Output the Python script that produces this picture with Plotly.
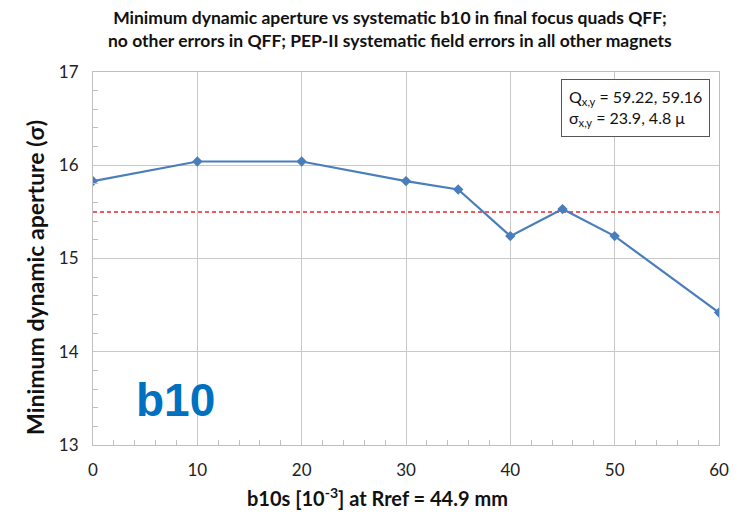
import plotly.graph_objects as go

b10 = [0, 10, 20, 30, 35, 40, 45, 50, 60]
min_da = [15.83, 16.04, 16.04, 15.83, 15.74, 15.24, 15.53, 15.24, 14.42]
threshold = 15.5
x_range = [0, 60]
y_range = [13, 17]

fig = go.Figure()
fig.add_trace(go.Scatter(
    x=x_range, y=[threshold, threshold], mode="lines",
    line=dict(color="#E8262B", width=1.5, dash="4px,3px"), showlegend=False, hoverinfo="skip"))
fig.add_trace(go.Scatter(
    x=b10, y=min_da, mode="lines+markers",
    line=dict(color="#4A7EBB", width=2.2),
    marker=dict(symbol="diamond", size=8, color="#4A7EBB"),
    showlegend=False))

fig.update_layout(
    width=743, height=526,
    margin=dict(l=93, r=24, t=72, b=81),
    paper_bgcolor="white", plot_bgcolor="white",
    font=dict(family="Lato, Open Sans, sans-serif", color="#222"),
    xaxis=dict(
        range=x_range, dtick=10, tick0=0,
        showgrid=True, gridcolor="#C8C8C8", gridwidth=1,
        showline=True, linecolor="#BFBFBF", linewidth=1, mirror=True,
        ticks="", tickfont=dict(size=17, color="#222"), ticklabelstandoff=10,
        minor=dict(dtick=2, ticks="inside", ticklen=5, tickcolor="#BFBFBF", showgrid=False),
        zeroline=False),
    yaxis=dict(
        range=y_range, dtick=1, tick0=13,
        showgrid=True, gridcolor="#C8C8C8", gridwidth=1,
        showline=True, linecolor="#BFBFBF", linewidth=1, mirror=True,
        ticks="", tickfont=dict(size=17, color="#222"), ticklabelstandoff=10,
        minor=dict(dtick=0.2, ticks="inside", ticklen=5, tickcolor="#BFBFBF", showgrid=False),
        zeroline=False),
    annotations=[
        dict(text="<b>Minimum dynamic aperture vs systematic b10 in final focus quads QFF;<br>no other errors in QFF; PEP-II systematic field errors in all other magnets</b>",
             xref="paper", yref="paper", x=0.475, y=1.18, xanchor="center", yanchor="top",
             showarrow=False, align="center",
             font=dict(size=17.5, color="#111", family="Lato, sans-serif")),
        dict(text="<b>b10s [10<sup>-3</sup>] at Rref = 44.9 mm</b>",
             xref="paper", yref="paper", x=0.455, y=-0.1, xanchor="center", yanchor="top",
             showarrow=False, font=dict(size=20, color="#111")),
        dict(text="<b>Minimum dynamic aperture (σ)</b>", textangle=-90,
             xref="paper", yref="paper", x=-0.093, y=0.45, xanchor="center", yanchor="middle",
             showarrow=False, font=dict(size=23, color="#111")),
        dict(text="Q<sub>x,y</sub> = 59.22, 59.16<br>σ<sub>x,y</sub> = 23.9, 4.8 μ",
             xref="paper", yref="paper", x=0.985, y=0.982, xanchor="right", yanchor="top",
             showarrow=False, align="left", bordercolor="#555", borderwidth=1, borderpad=7,
             bgcolor="white", font=dict(size=16, color="#111")),
        dict(text="<b>b10</b>", xref="paper", yref="paper", x=0.065, y=0.045,
             xanchor="left", yanchor="bottom", showarrow=False,
             font=dict(size=46, color="#0070C0", family="Liberation Sans, Arial, sans-serif")),
    ],
)

fig.write_html("out.html")
